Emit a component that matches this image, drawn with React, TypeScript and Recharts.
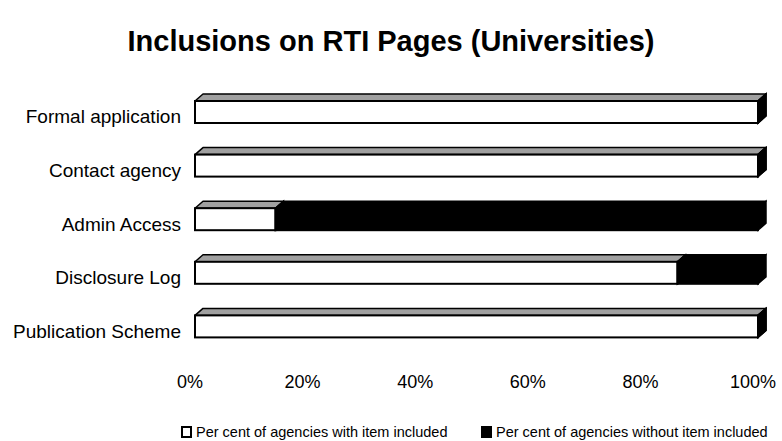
import { Bar, BarChart, XAxis, YAxis } from "recharts";

const categories = [
  "Formal application",
  "Contact agency",
  "Admin Access",
  "Disclosure Log",
  "Publication Scheme",
];
const includedPct = [100, 100, 14.3, 85.7, 100];
const withoutPct = [0, 0, 85.7, 14.3, 0];
const xTicks = [0, 20, 40, 60, 80, 100];

const SERIES = [
  { key: "included", name: "Per cent of agencies with item included", front: "#ffffff", top: "#a0a0a0" },
  { key: "without", name: "Per cent of agencies without item included", front: "#000000", top: "#000000" },
];

const FONT = '"Liberation Sans", Arial, sans-serif';

// depth of the fake 3D extrusion (right / up)
const DEPTH_X = 8;
const DEPTH_Y = 7;

const data = categories.map((name, i) => ({
  name,
  included: includedPct[i],
  without: withoutPct[i],
}));

function make3DBar(front: string, top: string) {
  return (props: any) => {
    const { x, y, width, height } = props;
    if (width == null || height == null) return <g />;
    const r = x + width;
    return (
      <g>
        <polygon
          points={`${x},${y} ${x + DEPTH_X},${y - DEPTH_Y} ${r + DEPTH_X},${y - DEPTH_Y} ${r},${y}`}
          fill={top}
          stroke="#000"
          strokeWidth={1.5}
          strokeLinejoin="round"
        />
        <polygon
          points={`${r},${y} ${r + DEPTH_X},${y - DEPTH_Y} ${r + DEPTH_X},${y + height - DEPTH_Y} ${r},${y + height}`}
          fill="#000"
          stroke="#000"
          strokeWidth={1.5}
        />
        <rect x={x} y={y} width={width} height={height} fill={front} stroke="#000" strokeWidth={2} />
      </g>
    );
  };
}

function CategoryTick({ x, y, payload }: any) {
  return (
    <text x={x} y={y + 5} textAnchor="end" dominantBaseline="central" fontSize={19} fill="#000" fontFamily={FONT}>
      {payload.value}
    </text>
  );
}

function PercentTick({ x, y, payload }: any) {
  return (
    <text x={x - 5} y={y} textAnchor="middle" dominantBaseline="central" fontSize={18} fill="#000" fontFamily={FONT}>
      {`${payload.value}%`}
    </text>
  );
}

export default function App() {
  return (
    <div
      style={{
        position: "absolute",
        left: 0,
        top: 0,
        width: 782,
        height: 441,
        background: "#fff",
        fontFamily: FONT,
      }}
    >
      <div
        style={{
          position: "absolute",
          left: 0,
          width: 782,
          top: 25,
          textAlign: "center",
          fontSize: 29,
          fontWeight: 700,
          color: "#000",
        }}
      >
        Inclusions on RTI Pages (Universities)
      </div>
      <BarChart
        width={782}
        height={441}
        data={data}
        layout="vertical"
        barSize={22}
        margin={{ top: 85, right: 24, left: 0, bottom: 38 }}
      >
        <XAxis
          type="number"
          domain={[0, 100]}
          ticks={xTicks}
          axisLine={false}
          tickLine={false}
          tickSize={0}
          tickMargin={29}
          height={50}
          tick={<PercentTick />}
        />
        <YAxis
          type="category"
          dataKey="name"
          width={195}
          axisLine={false}
          tickLine={false}
          tickSize={0}
          tickMargin={14}
          tick={<CategoryTick />}
        />
        {SERIES.map((s) => (
          <Bar
            key={s.key}
            dataKey={s.key}
            name={s.name}
            stackId="a"
            fill={s.front}
            shape={make3DBar(s.front, s.top)}
            isAnimationActive={false}
          />
        ))}
      </BarChart>
      {/* legend row */}
      <div style={{ position: "absolute", top: 423, left: 0, width: 782, height: 18, fontSize: 14.5, color: "#000" }}>
        {SERIES.map((s, i) => (
          <div
            key={s.key}
            style={{
              position: "absolute",
              left: i === 0 ? 181 : 481,
              top: 0,
              display: "flex",
              alignItems: "center",
              whiteSpace: "nowrap",
              lineHeight: "18px",
            }}
          >
            <span
              style={{
                display: "inline-block",
                width: 7,
                height: 8,
                border: "2px solid #000",
                background: s.front,
                marginRight: 4,
              }}
            />
            {s.name}
          </div>
        ))}
      </div>
    </div>
  );
}
